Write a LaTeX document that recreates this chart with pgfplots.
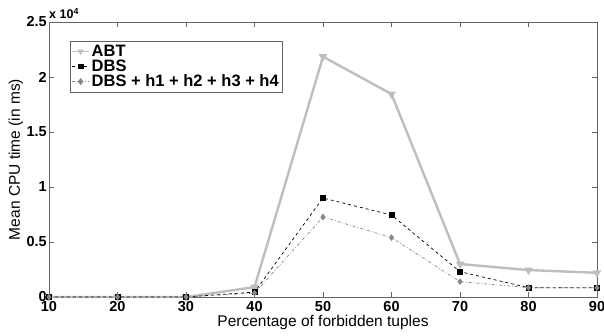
\documentclass[border=0pt]{standalone}
\usepackage{pgfplots}
\pgfplotsset{compat=1.18}
\usepackage{fontspec}
\setmainfont{Liberation Sans}
\definecolor{abtc}{RGB}{190,190,190}
\definecolor{hc}{RGB}{135,135,135}
\definecolor{axc}{RGB}{100,100,100}
\begin{document}
\begin{tikzpicture}
\useasboundingbox (-49pt,-38pt) rectangle (555pt,297pt);
\begin{axis}[
  at={(0,0)}, anchor=south west,
  scale only axis, width=548pt, height=275pt,
  xmin=10, xmax=90, ymin=0, ymax=25000,
  xtick={10,20,...,90},
  ytick={0,5000,10000,15000,20000,25000},
  yticklabels={0,0.5,1,1.5,2,2.5},
  scaled y ticks=false,
  tick align=inside,
  major tick length=5pt,
  axis line style={axc, line width=0.8pt},
  tick style={axc, line width=0.6pt},
  ticklabel style={font=\fontsize{14.5}{14.5}\selectfont\bfseries},
  /pgf/number format/assume math mode=true,
  xticklabel style={yshift=-3pt, inner sep=1pt},
  yticklabel style={xshift=-1pt, inner sep=1pt},
  xlabel={Percentage of forbidden tuples},
  ylabel={Mean CPU time (in ms)},
  label style={font=\fontsize{15.5}{15.5}\selectfont},
  xlabel style={yshift=1pt},
  ylabel style={yshift=-1pt},
  legend style={at={(0.038,0.93)}, anchor=north west, draw=axc, line width=0.6pt,
    font=\fontsize{16.5}{19}\selectfont\bfseries, row sep=-2pt, inner sep=1.5pt},
  legend image post style={line width=1pt},
  legend cell align=left,
  clip=false,
]
\addplot[abtc, line width=2.4pt, mark=triangle*, mark options={rotate=180, scale=1.3, solid}]
  coordinates {(10,0) (20,0) (30,0) (40,900) (50,21850) (60,18450) (70,3000) (80,2450) (90,2200)};
\addlegendentry{ABT}
\addplot[black, line width=0.7pt, dashed, mark=square*, mark options={solid, scale=1.2}]
  coordinates {(10,0) (20,0) (30,0) (40,450) (50,9000) (60,7450) (70,2300) (80,850) (90,850)};
\addlegendentry{DBS}
\addplot[hc, line width=0.7pt, dash dot, mark=diamond*, mark options={solid, scale=1.4}]
  coordinates {(10,0) (20,0) (30,0) (40,350) (50,7270) (60,5400) (70,1400) (80,850) (90,850)};
\addlegendentry{DBS + h1 + h2 + h3 + h4}
\node[anchor=south west, font=\fontsize{12.5}{12.5}\selectfont\bfseries, inner sep=0pt] at (rel axis cs:0,1) [yshift=3pt] {x 10$^{\mathbf{4}}$};
\end{axis}
\end{tikzpicture}
\end{document}
